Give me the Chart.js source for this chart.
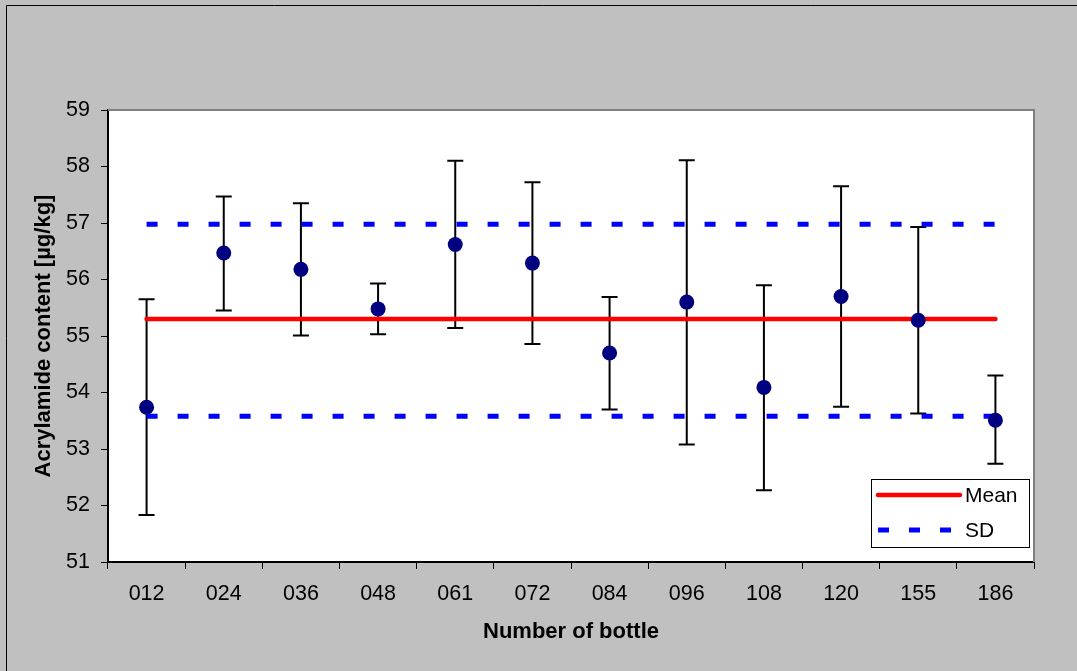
<!DOCTYPE html>
<html>
<head>
<meta charset="utf-8">
<script src="https://cdn.jsdelivr.net/npm/chart.js@4.4.1/dist/chart.umd.min.js"></script>
<style>
  html, body { margin: 0; padding: 0; background: #c0c0c0; overflow: hidden; }
</style>
</head>
<body>
<canvas id="mycanvas" width="1077" height="671"></canvas>
<script>
// values
var bottles = ['012', '024', '036', '048', '061', '072', '084', '096', '108', '120', '155', '186'];
var content = [53.74, 56.47, 56.18, 55.48, 56.62, 56.29, 54.70, 55.60, 54.09, 55.70, 55.28, 53.51];
var upper   = [55.65, 57.47, 57.35, 55.93, 58.10, 57.72, 55.69, 58.11, 55.90, 57.65, 56.93, 54.30];
var lower   = [51.83, 55.45, 55.01, 55.03, 55.14, 54.86, 53.70, 53.08, 52.27, 53.75, 53.63, 52.74];
var mean = 55.30;
var sdHigh = 56.98;
var sdLow = 53.58;
var yTicks = [51, 52, 53, 54, 55, 56, 57, 58, 59];

var FONT = "'Liberation Sans', Arial, sans-serif";

function flatLine(v) {
    return [{x: bottles[0], y: v}, {x: bottles[bottles.length - 1], y: v}];
}

var backdrop = {
    id: 'backdrop',
    beforeDraw: function(chart) {
        var ctx = chart.ctx, a = chart.chartArea;
        ctx.save();
        ctx.fillStyle = '#c0c0c0';
        ctx.fillRect(0, 0, chart.width, chart.height);
        ctx.strokeStyle = '#000';
        ctx.lineWidth = 1;
        ctx.beginPath();
        ctx.moveTo(6.5, chart.height + 2);
        ctx.lineTo(6.5, 5.5);
        ctx.lineTo(chart.width + 2, 5.5);
        ctx.stroke();
        ctx.fillStyle = '#fff';
        ctx.fillRect(a.left, a.top, a.right - a.left, a.bottom - a.top);
        ctx.restore();
    },
    beforeDatasetsDraw: function(chart) {
        var ctx = chart.ctx, a = chart.chartArea;
        var y = chart.scales.y, x = chart.scales.x;
        ctx.save();
        // plot frame (top / right)
        ctx.strokeStyle = '#808080';
        ctx.lineWidth = 2;
        ctx.beginPath();
        ctx.moveTo(a.left, a.top);
        ctx.lineTo(a.right, a.top);
        ctx.lineTo(a.right, a.bottom);
        ctx.stroke();
        // error bars
        ctx.strokeStyle = '#000';
        ctx.lineWidth = 2;
        for (var i = 0; i < bottles.length; i++) {
            var px = x.getPixelForValue(i);
            var hi = y.getPixelForValue(upper[i]);
            var lo = y.getPixelForValue(lower[i]);
            ctx.beginPath();
            ctx.moveTo(px, hi);
            ctx.lineTo(px, lo);
            ctx.moveTo(px - 8, hi);
            ctx.lineTo(px + 8, hi);
            ctx.moveTo(px - 8, lo);
            ctx.lineTo(px + 8, lo);
            ctx.stroke();
        }
        ctx.restore();
    },
    afterDraw: function(chart) {
        var ctx = chart.ctx, a = chart.chartArea;
        var ds = chart.data.datasets;
        var entries = [ds[0], ds[1]];
        var w = 158, h = 68;
        var bx = a.right - 5 - w, by = a.bottom - 15 - h;
        ctx.save();
        ctx.fillStyle = '#fff';
        ctx.fillRect(bx, by, w, h);
        ctx.strokeStyle = '#000';
        ctx.lineWidth = 1;
        ctx.strokeRect(Math.round(bx) + 0.5, Math.round(by) + 0.5, w, h);
        ctx.font = '21px ' + FONT;
        ctx.textBaseline = 'middle';
        ctx.fillStyle = '#000';
        entries.forEach(function(d, k) {
            var ly = by + 16 + k * 35;
            ctx.strokeStyle = d.borderColor;
            ctx.lineWidth = d.borderWidth;
            ctx.lineCap = d.borderCapStyle || 'butt';
            ctx.setLineDash(d.borderDash || []);
            ctx.beginPath();
            ctx.moveTo(bx + 7, ly);
            ctx.lineTo(bx + 89, ly);
            ctx.stroke();
            ctx.setLineDash([]);
            ctx.fillText(d.label, bx + 94, ly + 1);
        });
        ctx.restore();
    }
};

var ctx = document.getElementById('mycanvas');

var chart = new Chart(ctx, {
    type: 'line',
    data: {
        labels: bottles,
        datasets: [
            {
                label: 'Mean',
                data: flatLine(mean),
                borderColor: '#ff0000',
                borderWidth: 4.5,
                borderCapStyle: 'round',
                pointRadius: 0,
                fill: false,
                order: 2
            },
            {
                label: 'SD',
                data: flatLine(sdHigh),
                borderColor: '#0000ff',
                borderWidth: 5,
                borderDash: [11, 20],
                borderCapStyle: 'butt',
                pointRadius: 0,
                fill: false,
                order: 3
            },
            {
                label: 'SD low',
                data: flatLine(sdLow),
                borderColor: '#0000ff',
                borderWidth: 5,
                borderDash: [11, 20],
                borderCapStyle: 'butt',
                pointRadius: 0,
                fill: false,
                order: 3
            },
            {
                label: 'Acrylamide',
                data: content,
                showLine: false,
                pointRadius: 7.5,
                pointHoverRadius: 7.5,
                pointBackgroundColor: '#000080',
                pointBorderColor: '#000080',
                pointBorderWidth: 0,
                order: 1
            }
        ]
    },
    options: {
        responsive: false,
        animation: false,
        events: [],
        devicePixelRatio: 1,
        layout: { padding: { left: 0, top: 110, right: 43, bottom: 0 } },
        plugins: {
            legend: { display: false },
            tooltip: { enabled: false }
        },
        scales: {
            x: {
                offset: true,
                grid: {
                    offset: true,
                    drawOnChartArea: false,
                    drawTicks: true,
                    tickLength: 7,
                    color: '#000',
                    lineWidth: 1
                },
                border: { display: true, color: '#000', width: 2 },
                ticks: { color: '#000', padding: 12, font: { family: FONT, size: 21.5 } },
                title: {
                    display: true,
                    text: 'Number of bottle',
                    color: '#000',
                    font: { family: FONT, size: 22, weight: 'bold' },
                    padding: { top: 0, bottom: 26 }
                },
                afterFit: function(scale) { scale.height = 109; }
            },
            y: {
                min: 51,
                max: 59,
                afterBuildTicks: function(scale) {
                    scale.ticks = yTicks.map(function(v) { return {value: v}; });
                },
                grid: {
                    drawOnChartArea: false,
                    drawTicks: true,
                    tickLength: 7,
                    color: '#000',
                    lineWidth: 1
                },
                border: { display: true, color: '#000', width: 2 },
                ticks: { color: '#000', padding: 11, font: { family: FONT, size: 21.5 } },
                title: {
                    display: true,
                    text: 'Acrylamide content [µg/kg]',
                    color: '#000',
                    font: { family: FONT, size: 22, weight: 'bold' },
                    padding: { top: 31, bottom: 0 }
                },
                afterFit: function(scale) { scale.width = 108; }
            }
        }
    },
    plugins: [backdrop]
});
</script>
</body>
</html>
